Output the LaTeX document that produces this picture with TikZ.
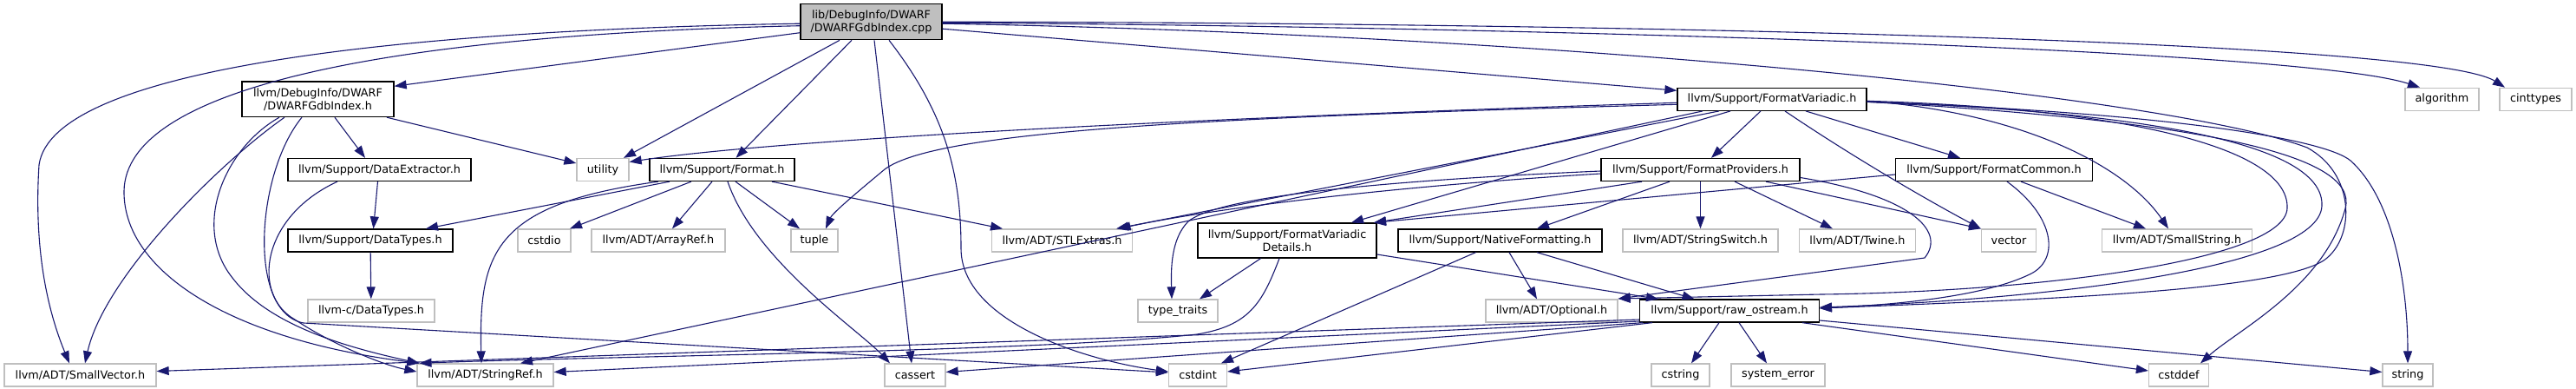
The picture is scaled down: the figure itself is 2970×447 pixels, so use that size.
\documentclass[tikz,border=0pt]{standalone}
\usepackage{fontspec}
\setmainfont{DejaVu Sans}
\usetikzlibrary{arrows.meta}
\definecolor{edgeblue}{HTML}{191970}
\definecolor{boxgray}{HTML}{BFBFBF}
\begin{document}
\begin{tikzpicture}[x=1pt,y=-1pt,
  font=\fontsize{12.8pt}{15pt}\selectfont,
  hdr/.style={draw=black,line width=1.3pt,fill=white,inner sep=0pt,minimum height=26pt},
  sys/.style={hdr,draw=boxgray},
  srcfile/.style={hdr,fill=boxgray},
  dep/.style={draw=edgeblue,line width=1.1pt,-{Triangle[length=14pt,width=10pt]}}]
\fill[white] (0,0) rectangle (2970,447);
\useasboundingbox (0,0) rectangle (2970,447);

\node[srcfile,minimum width=163pt,minimum height=41pt,align=center] (src) at (1004.5,25.2) {lib/DebugInfo/DWARF\\/DWARFGdbIndex.cpp};

\node[hdr,minimum width=175pt,minimum height=40.5pt,align=center] (gdbh) at (366.5,114.3) {llvm/DebugInfo/DWARF\\/DWARFGdbIndex.h};
\node[hdr,minimum width=218pt] (fmtvar) at (2043,114.3) {llvm/Support/FormatVariadic.h};
\node[sys,minimum width=85pt] (algo) at (2815.5,114.3) {algorithm};
\node[sys,minimum width=83pt] (cinttypes) at (2923.5,114.3) {cinttypes};

\node[hdr,minimum width=211pt] (dext) at (437.5,195.5) {llvm/Support/DataExtractor.h};
\node[sys,minimum width=60pt] (utility) at (695,195.5) {utility};
\node[hdr,minimum width=167pt] (fmt) at (832.5,195.5) {llvm/Support/Format.h};
\node[hdr,minimum width=229pt] (fmtprov) at (1960.5,195.5) {llvm/Support/FormatProviders.h};
\node[hdr,minimum width=227pt] (fmtcom) at (2299,195.5) {llvm/Support/FormatCommon.h};

\node[hdr,minimum width=190pt] (dtypes) at (427,277) {llvm/Support/DataTypes.h};
\node[sys,minimum width=61pt] (cstdio) at (627.5,277) {cstdio};
\node[sys,minimum width=154pt] (arrref) at (759,277) {llvm/ADT/ArrayRef.h};
\node[sys,minimum width=54pt] (tuple) at (939,277) {tuple};
\node[sys,minimum width=162pt] (stlext) at (1224.5,277) {llvm/ADT/STLExtras.h};
\node[hdr,minimum width=206pt,minimum height=40pt,align=center] (fvdet) at (1484,277) {llvm/Support/FormatVariadic\\Details.h};
\node[hdr,minimum width=235pt] (natfmt) at (1729.5,277) {llvm/Support/NativeFormatting.h};
\node[sys,minimum width=179pt] (strsw) at (1960.5,277) {llvm/ADT/StringSwitch.h};
\node[sys,minimum width=134pt] (twine) at (2141.5,277) {llvm/ADT/Twine.h};
\node[sys,minimum width=63pt] (vector) at (2316,277) {vector};
\node[sys,minimum width=173pt] (smallstr) at (2510,277) {llvm/ADT/SmallString.h};

\node[sys,minimum width=146pt] (cdtypes) at (428,358) {llvm-c/DataTypes.h};
\node[sys,minimum width=92pt] (typetr) at (1358,358) {type\_traits};
\node[sys,minimum width=152pt] (optional) at (1789,358) {llvm/ADT/Optional.h};
\node[hdr,minimum width=206.5pt] (rawos) at (1994,358) {llvm/Support/raw\_ostream.h};

\node[sys,minimum width=175pt] (smallvec) at (92.5,432) {llvm/ADT/SmallVector.h};
\node[sys,minimum width=157pt] (strref) at (559.5,432) {llvm/ADT/StringRef.h};
\node[sys,minimum width=70pt] (cassert) at (1055,432) {cassert};
\node[sys,minimum width=67pt] (cstdint) at (1381,432) {cstdint};
\node[sys,minimum width=67pt] (cstring) at (1937.5,432) {cstring};
\node[sys,minimum width=108pt] (syserr) at (2050,432) {system\_error};
\node[sys,minimum width=69pt] (cstddef) at (2512,432) {cstddef};
\node[sys,minimum width=58pt] (string) at (2776,432) {string};

\draw[dep] ([yshift=-2pt]src.west) .. controls (450,35) and (60,80) .. (45,190) .. controls (38,300) and (60,370) .. ([xshift=-12.5pt]smallvec.north);
\draw[dep] ([yshift=-4.5pt]src.west) .. controls (450,40) and (145,100) .. (143,220) .. controls (142,310) and (260,390) .. ([xshift=-76pt]strref.north);
\draw[dep] ([yshift=-12.5pt]src.west) -- ([yshift=15pt]gdbh.east);
\draw[dep] ([xshift=-36.5pt]src.south) -- ([xshift=24pt]utility.north);
\draw[dep] ([xshift=-22.5pt]src.south) -- ([xshift=16pt]fmt.north);
\draw[dep] ([xshift=3.5pt]src.south) -- ([xshift=-4pt]cassert.north);
\draw[dep] ([xshift=20.5pt]src.south) .. controls (1090,130) and (1108,200) .. (1108,286) .. controls (1108,370) and (1250,415) .. ([yshift=4pt]cstdint.west);
\draw[dep] ([yshift=-8pt]src.east) -- ([yshift=10pt]fmtvar.west);
\draw[dep] ([yshift=-1pt]src.east) .. controls (1700,30) and (2650,55) .. ([xshift=-25.5pt]algo.north);
\draw[dep] (src.east) .. controls (1800,26) and (2800,45) .. ([xshift=-35.5pt]cinttypes.north);
\draw[dep] ([yshift=-2pt]src.east) .. controls (1800,40) and (2500,110) .. (2660,170) .. controls (2715,200) and (2715,270) .. (2683,297) .. controls (2640,335) and (2350,345) .. ([yshift=3pt]rawos.east);

\draw[dep] ([xshift=-38.5pt]gdbh.south) .. controls (250,190) and (120,320) .. ([xshift=5.5pt]smallvec.north);
\draw[dep] ([xshift=-44.5pt]gdbh.south) .. controls (260,170) and (220,260) .. (268,320) .. controls (310,375) and (400,400) .. ([xshift=-76pt]strref.north);
\draw[dep] ([xshift=-18.5pt]gdbh.south) .. controls (295,200) and (285,360) .. (350,372) -- ([yshift=3pt]cstdint.west);
\draw[dep] ([xshift=19.5pt]gdbh.south) -- ([xshift=-16.5pt]dext.north);
\draw[dep] ([xshift=79.5pt]gdbh.south) -- ([yshift=7.5pt]utility.west);

\draw[dep] ([xshift=-2pt]dext.south) -- ([xshift=3.5pt]dtypes.north);
\draw[dep] ([xshift=-48.5pt]dext.south) .. controls (300,250) and (290,340) .. (340,368) .. controls (380,395) and (440,420) .. ([yshift=4pt]strref.west);
\draw[dep] (dtypes) -- (cdtypes);

\draw[dep] ([xshift=-60.5pt]fmt.south) -- ([xshift=64pt]dtypes.north);
\draw[dep] ([xshift=-73.5pt]fmt.south) .. controls (570,235) and (552,290) .. ([xshift=-4.5pt]strref.north);
\draw[dep] ([xshift=-35.5pt]fmt.south) -- ([xshift=29.5pt]cstdio.north);
\draw[dep] ([xshift=-11.5pt]fmt.south) -- ([xshift=16pt]arrref.north);
\draw[dep] ([xshift=15.5pt]fmt.south) -- ([xshift=-17pt]tuple.north);
\draw[dep] ([xshift=6.5pt]fmt.south) .. controls (870,300) and (990,380) .. ([xshift=-29pt]cassert.north);
\draw[dep] ([xshift=57.5pt]fmt.south) -- ([xshift=-68.5pt]stlext.north);

\draw[dep] ([xshift=-13pt]fmtvar.south) -- ([xshift=12.5pt]fmtprov.north);
\draw[dep] ([xshift=39pt]fmtvar.south) -- ([xshift=-39pt]fmtcom.north);
\draw[dep] ([xshift=-48pt]fmtvar.south) -- ([xshift=74pt]fvdet.north);
\draw[dep] ([xshift=-61pt]fmtvar.south) -- ([xshift=62.5pt]stlext.north);
\draw[dep] ([xshift=-80pt]fmtvar.south) -- ([xshift=40.5pt]strref.north);
\draw[dep] ([yshift=-4pt]fmtvar.west) .. controls (1400,135) and (900,160) .. ([yshift=9pt]utility.east);
\draw[dep] ([yshift=-6pt]fmtvar.west) .. controls (1400,135) and (1080,150) .. (1020,195) .. controls (990,220) and (960,245) .. ([xshift=13pt]tuple.north);
\draw[dep] ([xshift=15pt]fmtvar.south) .. controls (2150,190) and (2240,240) .. (vector.north west);
\draw[dep] ([yshift=-2pt]fmtvar.east) .. controls (2330,130) and (2450,190) .. ([xshift=-10pt]smallstr.north);
\draw[dep] ([yshift=-2pt]fmtvar.east) .. controls (2450,125) and (2640,170) .. (2637,240) .. controls (2634,300) and (2350,336) .. (2100,339) -- ([yshift=14pt]optional.east);
\draw[dep] ([yshift=-3pt]fmtvar.east) .. controls (2500,130) and (2680,170) .. (2677,237) .. controls (2674,310) and (2350,345) .. ([yshift=4pt]rawos.east);
\draw[dep] ([yshift=-3pt]fmtvar.east) .. controls (2550,140) and (2720,180) .. (2704,240) .. controls (2680,330) and (2580,380) .. ([xshift=25pt]cstddef.north);
\draw[dep] ([yshift=-3pt]fmtvar.east) .. controls (2500,130) and (2680,160) .. (2710,185) .. controls (2760,230) and (2776,330) .. (string.north);

\draw[dep] ([yshift=-4.5pt]fmtprov.west) .. controls (1600,215) and (1400,240) .. ([xshift=65pt]stlext.north);
\draw[dep] ([yshift=-1.5pt]fmtprov.west) .. controls (1550,210) and (1400,230) .. (1370,255) .. controls (1350,275) and (1350,310) .. ([xshift=-7pt]typetr.north);
\draw[dep] ([xshift=-67.5pt]fmtprov.south) -- ([xshift=100pt]fvdet.north);
\draw[dep] ([xshift=-35.5pt]fmtprov.south) -- ([xshift=42.5pt]natfmt.north);
\draw[dep] (fmtprov) -- (strsw);
\draw[dep] ([xshift=39.5pt]fmtprov.south) -- ([xshift=-28.5pt]twine.north);
\draw[dep] ([xshift=75.5pt]fmtprov.south) -- (vector.north west);
\draw[dep] ([yshift=-9pt]fmtprov.east) .. controls (2200,225) and (2245,265) .. (2219,297) -- ([yshift=14pt]optional.east);

\draw[dep] ([yshift=-5.5pt]fmtcom.west) -- ([xshift=100pt]fvdet.north);
\draw[dep] ([xshift=31pt]fmtcom.south) -- ([xshift=-36pt]smallstr.north);
\draw[dep] ([xshift=15pt]fmtcom.south) .. controls (2370,250) and (2375,300) .. (2340,316) .. controls (2280,345) and (2160,352) .. ([yshift=3pt]rawos.east);

\draw[dep] ([xshift=-30.5pt]fvdet.south) -- ([xshift=25pt]typetr.north);
\draw[dep] ([xshift=-9pt]fvdet.south) .. controls (1455,350) and (1440,375) .. (1380,385) .. controls (1200,405) and (700,410) .. ([xshift=-76pt]strref.north);
\draw[dep] ([yshift=-16pt]fvdet.east) -- ([xshift=-82pt]rawos.north);

\draw[dep] ([xshift=-28pt]natfmt.south) -- ([xshift=27pt]cstdint.north);
\draw[dep] ([xshift=10.5pt]natfmt.south) -- ([xshift=-17pt]optional.north);
\draw[dep] ([xshift=42.5pt]natfmt.south) -- ([xshift=-40.5pt]rawos.north);

\draw[dep] ([yshift=-10pt]rawos.west) -- ([yshift=4.5pt]smallvec.east);
\draw[dep] ([yshift=-12pt]rawos.west) -- ([yshift=3.5pt]strref.east);
\draw[dep] ([xshift=-100pt]rawos.south) -- ([yshift=3.5pt]cassert.east);
\draw[dep] ([xshift=-89pt]rawos.south) -- ([yshift=4pt]cstdint.east);
\draw[dep] ([xshift=-12pt]rawos.south) -- ([xshift=12.5pt]cstring.north);
\draw[dep] ([xshift=11pt]rawos.south) -- ([xshift=-13pt]syserr.north);
\draw[dep] ([xshift=84pt]rawos.south) -- ([yshift=5pt]cstddef.west);
\draw[dep] ([yshift=-11pt]rawos.east) -- ([yshift=3.5pt]string.west);
\end{tikzpicture}
\end{document}
